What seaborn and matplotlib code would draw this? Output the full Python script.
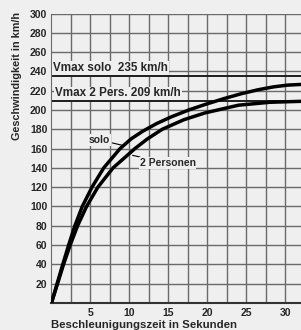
import numpy as np
import pandas as pd
import matplotlib
matplotlib.use("Agg")
import matplotlib.pyplot as plt
import seaborn as sns

# values
t_solo = [0, 0.72, 1.45, 2.2, 3.0, 3.95, 5.2, 6.7, 8.8, 10.2, 11.7, 13.5, 15.4,
          17.6, 19.8, 22.2, 24.4, 26.5, 28.5, 30.3, 32]
v_solo = [0, 20, 40, 60, 80, 100, 120, 140, 160, 170, 178, 186, 193,
          200, 206, 212, 217, 221, 224, 225.8, 226.5]
t_2p = [0, 0.78, 1.55, 2.4, 3.35, 4.5, 5.95, 7.9, 10.7, 12.3, 14.2, 17.0,
        19.7, 24.0, 28.0, 32]
v_2p = [0, 20, 40, 60, 80, 100, 120, 140, 160, 170, 180, 190,
        197, 205, 208, 209]
vmax_solo = 235
vmax_2p = 209
x_ticks = [5, 10, 15, 20, 25, 30]
y_ticks = list(range(20, 301, 20))

bg = "#efefef"
grid_col = "#6a6a6a"
sns.set_style("white", {"axes.facecolor": bg, "figure.facecolor": bg})
plt.rcParams["font.family"] = ["Liberation Sans", "DejaVu Sans"]

df = pd.concat([
    pd.DataFrame({"t": t_solo, "v": v_solo, "serie": "solo"}),
    pd.DataFrame({"t": t_2p, "v": v_2p, "serie": "2 Personen"}),
])

fig = plt.figure(figsize=(3.01, 3.30), dpi=100)
ax = fig.add_axes([0.171, 0.082, 0.829, 0.877])

# grid every 2.5 s and 20 km/h
for gx in np.arange(2.5, 32.1, 2.5):
    ax.axvline(gx, color=grid_col, lw=1.0, zorder=1)
for gy in range(20, 301, 20):
    ax.axhline(gy, color=grid_col, lw=1.0, zorder=1)

ax.axhline(vmax_solo, color="#1e1e1e", lw=1.4, zorder=2)
ax.axhline(vmax_2p, color="#1e1e1e", lw=1.4, zorder=2)

sns.lineplot(data=df, x="t", y="v", units="serie", estimator=None, color="black",
             lw=2.5, ax=ax, zorder=4, sort=False, solid_joinstyle="round")

ax.set_xlim(0, 32)
ax.set_ylim(0, 300)
ax.set_xticks(x_ticks)
ax.set_yticks(y_ticks)
ax.set_xticklabels([str(x) for x in x_ticks], fontsize=7.5, fontweight="bold")
ax.set_yticklabels([str(y) for y in y_ticks], fontsize=7.5, fontweight="bold")
ax.tick_params(axis="y", length=0, pad=3)
ax.tick_params(axis="x", length=0, pad=4)
# little ticks under the bottom axis at every grid line
ax.set_xticks(np.arange(0, 32.1, 2.5), minor=True)
ax.tick_params(axis="x", which="minor", length=3, width=1, color="#333333")
for s in ["top", "right"]:
    ax.spines[s].set_visible(False)
ax.spines["left"].set_color(grid_col)
ax.spines["bottom"].set_color("#333333")
ax.spines["bottom"].set_linewidth(1.5)

box = dict(facecolor=bg, edgecolor="none", pad=0.6)
ax.text(0.2, vmax_solo + 2, "Vmax solo  235 km/h", fontsize=8.4, fontweight="bold",
        va="bottom", bbox=box, zorder=3)
ax.text(0.45, vmax_2p + 2, "Vmax 2 Pers. 209 km/h", fontsize=8.4, fontweight="bold",
        va="bottom", bbox=box, zorder=3)

ax.annotate("solo", xy=(9.3, 163), xytext=(4.8, 169), fontsize=7.5, fontweight="bold",
            va="center", bbox=box, zorder=3,
            arrowprops=dict(arrowstyle="-", color="black", lw=0.8, shrinkA=1, shrinkB=0))
ax.annotate("2 Personen", xy=(10.4, 153), xytext=(11.3, 145), fontsize=7.5, fontweight="bold",
            va="center", bbox=box, zorder=3,
            arrowprops=dict(arrowstyle="-", color="black", lw=0.8, shrinkA=1, shrinkB=0))

ax.set_xlabel("")
ax.set_ylabel("")
fig.text(0.058, 0.965, "Geschwindigkeit in km/h", rotation=90, fontsize=7.8,
         fontweight="bold", ha="center", va="top")
fig.text(0.168, 0.029, "Beschleunigungszeit in Sekunden", fontsize=8.2,
         fontweight="bold", ha="left", va="top")

fig.savefig("out.png", dpi=100, facecolor=bg)
